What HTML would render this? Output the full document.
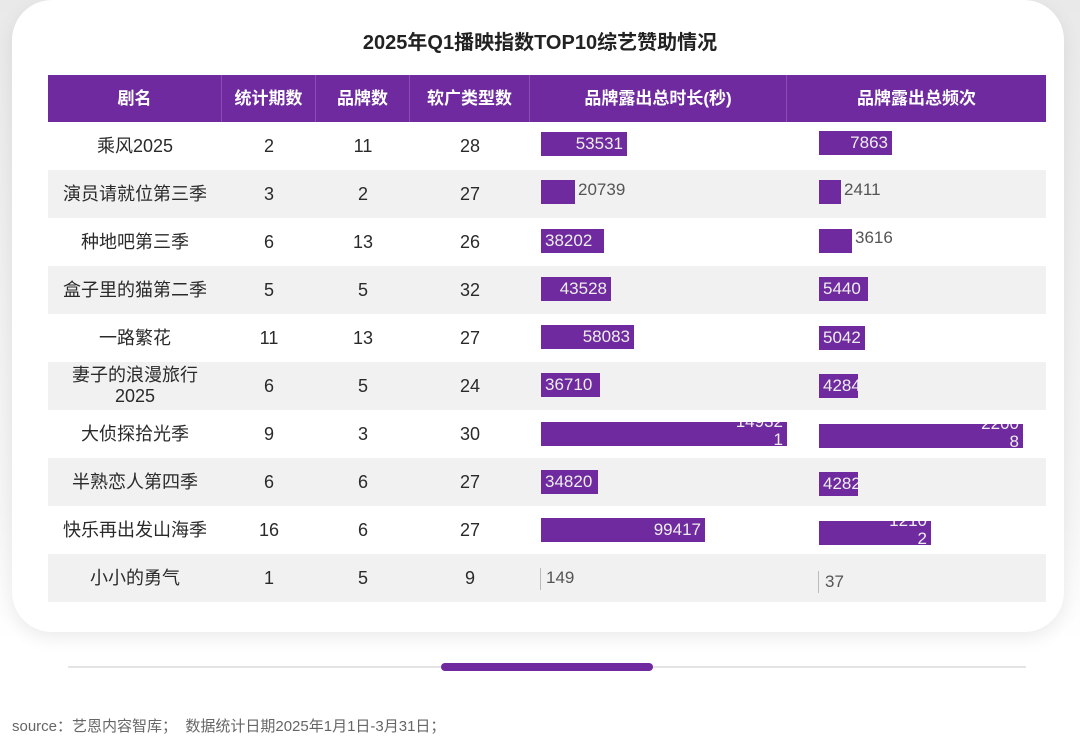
<!DOCTYPE html>
<html><head><meta charset="utf-8"><style>
*{margin:0;padding:0;box-sizing:border-box}
body{width:1080px;height:742px;background:#fff;font-family:"Liberation Sans","Noto Sans CJK SC",sans-serif;position:relative;overflow:hidden}
.bgtop{position:absolute;left:0;top:0;width:1080px;height:640px;background:linear-gradient(#e9e9e9,#f6f6f6 80%,#fff)}
.card{position:absolute;left:12px;top:0px;width:1052px;height:632px;background:#fff;border-radius:40px;box-shadow:0 6px 18px rgba(0,0,0,.08)}
.title{position:absolute;left:0;width:1080px;top:26px;text-align:center;font-size:20px;font-weight:bold;color:#222}
.hdr{position:absolute;left:48px;top:75px;width:998px;height:47px;background:#6e2a9e}
.hc{position:absolute;top:75px;height:47px;line-height:47px;color:#fff;font-size:17px;font-weight:bold;text-align:center;border-right:1px solid #8a4fb5}
.row{position:absolute;left:48px;width:998px;height:48px}
.c{position:absolute;height:48px;line-height:48px;text-align:center;font-size:18px;color:#2a2a2a}
.bar{position:absolute;height:24px;background:#6e2a9e;overflow:hidden;color:#eee;font-size:17px;line-height:24px;white-space:nowrap}
.out{position:absolute;font-size:17px;color:#555;line-height:24px}
.r{text-align:right;padding-right:4px}
.l{text-align:left;padding-left:4px}
.w2{position:absolute;right:4px;top:-9px;width:52px;text-align:right;font-size:17px;line-height:18px;white-space:normal;word-break:break-all}
</style></head><body>
<div class="bgtop"></div>
<div class="card"></div>
<div class="title">2025年Q1播映指数TOP10综艺赞助情况</div>
<div class="hdr"></div>
<div class="hc" style="left:48px;width:174px">剧名</div>
<div class="hc" style="left:222px;width:94px">统计期数</div>
<div class="hc" style="left:316px;width:94px">品牌数</div>
<div class="hc" style="left:410px;width:120px">软广类型数</div>
<div class="hc" style="left:530px;width:257px">品牌露出总时长(秒)</div>
<div class="hc" style="left:787px;width:259px;border:none">品牌露出总频次</div>

<div class="row" style="top:122px;background:#fff"></div>
<div class="row" style="top:170px;background:#f1f1f1"></div>
<div class="row" style="top:218px;background:#fff"></div>
<div class="row" style="top:266px;background:#f1f1f1"></div>
<div class="row" style="top:314px;background:#fff"></div>
<div class="row" style="top:362px;background:#f1f1f1"></div>
<div class="row" style="top:410px;background:#fff"></div>
<div class="row" style="top:458px;background:#f1f1f1"></div>
<div class="row" style="top:506px;background:#fff"></div>
<div class="row" style="top:554px;background:#f1f1f1"></div>

<div class="c" style="left:48px;width:174px;top:122px">乘风2025</div><div class="c" style="left:222px;width:94px;top:122px">2</div><div class="c" style="left:316px;width:94px;top:122px">11</div><div class="c" style="left:410px;width:120px;top:122px">28</div>
<div class="c" style="left:48px;width:174px;top:170px">演员请就位第三季</div><div class="c" style="left:222px;width:94px;top:170px">3</div><div class="c" style="left:316px;width:94px;top:170px">2</div><div class="c" style="left:410px;width:120px;top:170px">27</div>
<div class="c" style="left:48px;width:174px;top:218px">种地吧第三季</div><div class="c" style="left:222px;width:94px;top:218px">6</div><div class="c" style="left:316px;width:94px;top:218px">13</div><div class="c" style="left:410px;width:120px;top:218px">26</div>
<div class="c" style="left:48px;width:174px;top:266px">盒子里的猫第二季</div><div class="c" style="left:222px;width:94px;top:266px">5</div><div class="c" style="left:316px;width:94px;top:266px">5</div><div class="c" style="left:410px;width:120px;top:266px">32</div>
<div class="c" style="left:48px;width:174px;top:314px">一路繁花</div><div class="c" style="left:222px;width:94px;top:314px">11</div><div class="c" style="left:316px;width:94px;top:314px">13</div><div class="c" style="left:410px;width:120px;top:314px">27</div>
<div class="c" style="left:48px;width:174px;top:362px;line-height:21px;padding-top:3px">妻子的浪漫旅行<br>2025</div><div class="c" style="left:222px;width:94px;top:362px">6</div><div class="c" style="left:316px;width:94px;top:362px">5</div><div class="c" style="left:410px;width:120px;top:362px">24</div>
<div class="c" style="left:48px;width:174px;top:410px">大侦探拾光季</div><div class="c" style="left:222px;width:94px;top:410px">9</div><div class="c" style="left:316px;width:94px;top:410px">3</div><div class="c" style="left:410px;width:120px;top:410px">30</div>
<div class="c" style="left:48px;width:174px;top:458px">半熟恋人第四季</div><div class="c" style="left:222px;width:94px;top:458px">6</div><div class="c" style="left:316px;width:94px;top:458px">6</div><div class="c" style="left:410px;width:120px;top:458px">27</div>
<div class="c" style="left:48px;width:174px;top:506px">快乐再出发山海季</div><div class="c" style="left:222px;width:94px;top:506px">16</div><div class="c" style="left:316px;width:94px;top:506px">6</div><div class="c" style="left:410px;width:120px;top:506px">27</div>
<div class="c" style="left:48px;width:174px;top:554px">小小的勇气</div><div class="c" style="left:222px;width:94px;top:554px">1</div><div class="c" style="left:316px;width:94px;top:554px">5</div><div class="c" style="left:410px;width:120px;top:554px">9</div>

<div class="bar r" style="left:541px;top:132px;width:86px">53531</div>
<div class="bar" style="left:541px;top:180px;width:34px"></div><div class="out" style="left:578px;top:178px">20739</div>
<div class="bar l" style="left:541px;top:229px;width:63px">38202</div>
<div class="bar r" style="left:541px;top:277px;width:70px">43528</div>
<div class="bar r" style="left:541px;top:325px;width:93px">58083</div>
<div class="bar l" style="left:541px;top:373px;width:59px">36710</div>
<div class="bar" style="left:541px;top:422px;width:246px"><div class="w2">149321</div></div>
<div class="bar l" style="left:541px;top:470px;width:57px">34820</div>
<div class="bar r" style="left:541px;top:518px;width:164px">99417</div>
<div style="position:absolute;left:540px;top:568px;width:1px;height:22px;background:#bbb"></div><div class="out" style="left:546px;top:566px">149</div>

<div class="bar r" style="left:819px;top:131px;width:73px">7863</div>
<div class="bar" style="left:819px;top:180px;width:22px"></div><div class="out" style="left:844px;top:178px">2411</div>
<div class="bar" style="left:819px;top:229px;width:33px"></div><div class="out" style="left:855px;top:226px">3616</div>
<div class="bar l" style="left:819px;top:277px;width:49px">5440</div>
<div class="bar l" style="left:819px;top:326px;width:46px">5042</div>
<div class="bar l" style="left:819px;top:374px;width:39px">4284</div>
<div class="bar" style="left:819px;top:424px;width:204px"><div class="w2" style="width:42px">22008</div></div>
<div class="bar l" style="left:819px;top:472px;width:39px">4282</div>
<div class="bar" style="left:819px;top:521px;width:112px"><div class="w2" style="width:42px">12102</div></div>
<div style="position:absolute;left:818px;top:571px;width:1px;height:22px;background:#bbb"></div><div class="out" style="left:825px;top:570px">37</div>

<div style="position:absolute;left:68px;top:666px;width:958px;height:2px;background:#e4e4e4"></div>
<div style="position:absolute;left:441px;top:663px;width:212px;height:8px;border-radius:4px;background:#6e2a9e"></div>
<div style="position:absolute;left:12px;top:715px;font-size:15px;color:#666">source：艺恩内容智库；&nbsp;&nbsp;数据统计日期2025年1月1日-3月31日；</div>
</body></html>
